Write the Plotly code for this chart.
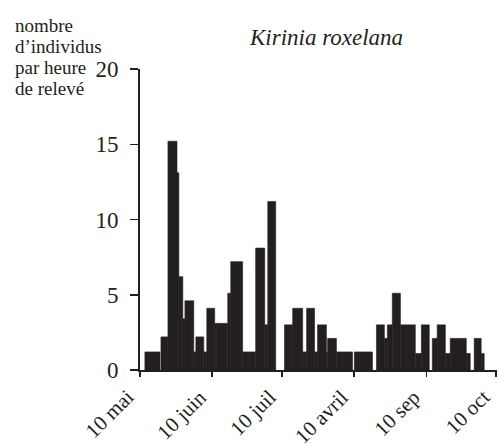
import plotly.graph_objects as go

# Sampling intervals (days after 10 May) and individuals per hour
start_day = [2.1, 9.0, 12.0, 15.9, 16.7, 18.4, 19.3, 23.1, 24.0, 27.4,
             28.7, 32.1, 33.0, 37.7, 39.0, 44.1, 49.7, 53.6, 54.9, 62.1,
             65.6, 69.9, 71.6, 75.0, 76.3, 80.1, 80.6, 84.4, 92.1, 101.6,
             105.0, 106.3, 108.4, 111.9, 118.3, 120.9, 125.6, 127.7, 131.2, 133.3,
             140.2, 143.6, 146.6]
end_day = [8.6, 12.0, 15.9, 16.7, 18.4, 19.3, 23.1, 24.0, 27.4, 28.7,
           32.1, 33.0, 37.7, 39.0, 44.1, 49.7, 53.6, 54.9, 58.3, 65.6,
           69.9, 71.6, 75.0, 76.3, 80.1, 80.6, 84.4, 91.3, 99.9, 105.0,
           106.3, 108.4, 111.9, 118.3, 120.9, 124.3, 127.7, 131.2, 133.3, 140.2,
           141.9, 146.6, 147.9]
individus = [1.2, 2.2, 15.2, 13.1, 6.2, 3.4, 4.6, 1.2, 2.2, 1.2,
             4.1, 3.1, 3.1, 5.1, 7.2, 1.2, 8.1, 3.0, 11.2, 3.0,
             4.1, 1.2, 4.1, 1.2, 3.0, 1.2, 2.1, 1.2, 1.2, 3.0,
             2.1, 3.0, 5.1, 3.0, 1.1, 3.0, 2.1, 3.0, 1.1, 2.1,
             1.1, 2.1, 1.1]

tick_days = [0, 31, 61, 92, 123, 153]
tick_labels = ["10 mai", "10 juin", "10 juil", "10 avril", "10 sep", "10 oct"]
y_ticks = [0, 5, 10, 15, 20]
y_title_lines = ["nombre", "d’individus", "par heure", "de relevé"]
chart_title = "Kirinia roxelana"

centers = [(s + e) / 2 for s, e in zip(start_day, end_day)]
widths = [e - s for s, e in zip(start_day, end_day)]

SERIF = "Liberation Serif, Times New Roman, Times, serif"
INK = "#231f20"

fig = go.Figure(go.Bar(
    x=centers, y=individus, width=widths,
    marker=dict(color=INK, line=dict(color=INK, width=0.6)),
    hoverinfo="skip",
))

annotations = [
    dict(text="<i>" + chart_title + "</i>", xref="paper", yref="paper",
         x=0.52, y=1.106, xanchor="center", yanchor="middle",
         showarrow=False, font=dict(family=SERIF, size=23, color=INK)),
]
for i, line in enumerate(y_title_lines):
    annotations.append(dict(
        text=line, xref="paper", yref="paper",
        x=-0.356, y=1.146 - i * 0.0705,
        xanchor="left", yanchor="middle", align="left", showarrow=False,
        font=dict(family=SERIF, size=19, color=INK),
    ))
# rotated month labels, their upper-right end just left of each tick
for d, lab in zip(tick_days, tick_labels):
    annotations.append(dict(
        text=lab, x=d, y=0, xref="x", yref="y",
        xanchor="right", yanchor="top", textangle=-45,
        xshift=0, yshift=-14, showarrow=False, borderpad=0,
        font=dict(family=SERIF, size=21, color=INK),
    ))

fig.update_layout(
    width=499, height=444,
    margin=dict(l=140, r=2, t=69, b=74),
    paper_bgcolor="white", plot_bgcolor="white",
    showlegend=False,
    bargap=0,
    font=dict(family=SERIF, color=INK),
    xaxis=dict(
        range=[0, 153.4], tickvals=tick_days, showticklabels=False,
        ticks="outside", ticklen=5, tickwidth=1.5, tickcolor=INK,
        showline=True, linecolor=INK, linewidth=2,
        showgrid=False, zeroline=False, automargin=False,
    ),
    yaxis=dict(
        range=[0, 20], tickvals=y_ticks,
        ticks="outside", ticklen=8, tickwidth=1.5, tickcolor=INK,
        showline=True, linecolor=INK, linewidth=2,
        showgrid=False, zeroline=False, automargin=False,
        ticklabelstandoff=7,
        tickfont=dict(family=SERIF, size=23, color=INK),
    ),
    annotations=annotations,
)

fig.write_html(
    "out.html",
    config={"displayModeBar": False, "staticPlot": True},
    post_script="document.body.style.margin='0';document.body.style.padding='0';",
)
